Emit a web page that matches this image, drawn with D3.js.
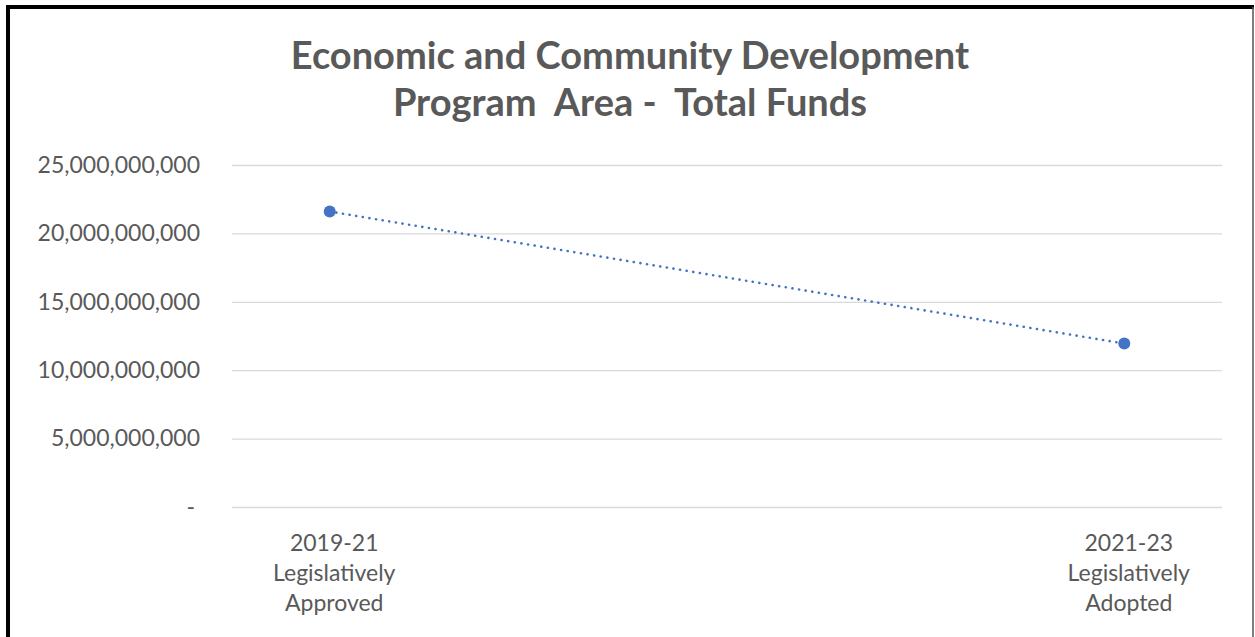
<!DOCTYPE html>
<html>
<head>
<meta charset="utf-8">
<script src="https://cdn.jsdelivr.net/npm/d3@7/dist/d3.min.js"></script>
<style>
  html, body { margin: 0; padding: 0; background: #fff; }
  svg { display: block; }
  text { font-family: Lato, "Open Sans", sans-serif; }
</style>
</head>
<body>
<svg id="chart" width="1255" height="637"></svg>
<script>
// Chart data
const titleLines = ["Economic and Community Development", "Program  Area -  Total Funds"];
const categories = ["2019-21 Legislatively Approved", "2021-23 Legislatively Adopted"];
const categoryLines = [["2019-21", "Legislatively", "Approved"], ["2021-23", "Legislatively", "Adopted"]];
const totalFunds = [21600000000, 11950000000];
const yTicks = [0, 5000000000, 10000000000, 15000000000, 20000000000, 25000000000];

const W = 1255, H = 637;
const plot = { left: 232, right: 1222, top: 165, bottom: 507 };

const svg = d3.select("#chart");

// White card with heavy left/top frame and a thin right edge
svg.append("rect").attr("width", W).attr("height", H).attr("fill", "#fff");
svg.append("line").attr("x1", 8).attr("x2", 8).attr("y1", 5).attr("y2", H)
  .attr("stroke", "#000").attr("stroke-width", 4);
svg.append("line").attr("x1", 6).attr("x2", 1254).attr("y1", 7).attr("y2", 7)
  .attr("stroke", "#000").attr("stroke-width", 4);
svg.append("line").attr("x1", 1253).attr("x2", 1253).attr("y1", 7).attr("y2", H)
  .attr("stroke", "#555").attr("stroke-width", 1.5);

// Title (spacing kept as written)
const title = svg.append("text")
  .attr("text-anchor", "middle")
  .attr("fill", "#595959")
  .attr("font-weight", "bold")
  .attr("font-size", 38)
  .style("white-space", "pre");
titleLines.forEach((t, i) => {
  title.append("tspan").attr("x", 630).attr("y", 69 + i * 47).text(t);
});

// Scales
const y = d3.scaleLinear().domain([0, 25000000000]).range([plot.bottom, plot.top]);
const x = d3.scalePoint().domain(categories).range([plot.left, plot.right]).padding(0.123);

// Y axis with gridlines
const fmt = d3.format(",");
const yAxis = svg.append("g")
  .attr("transform", `translate(${plot.left},0)`)
  .call(d3.axisLeft(y)
    .tickValues(yTicks)
    .tickSize(-(plot.right - plot.left))
    .tickPadding(32)
    .tickFormat(d => d === 0 ? "-" : fmt(d)));
yAxis.select(".domain").remove();
yAxis.selectAll(".tick line").attr("stroke", "#d9d9d9").attr("stroke-width", 1.3);
yAxis.selectAll(".tick text")
  .attr("fill", "#595959")
  .attr("font-size", 23)
  .attr("dx", d => d === 0 ? -5 : 0);

// X axis category labels
const xAxis = svg.append("g")
  .attr("transform", `translate(0,${plot.bottom})`)
  .call(d3.axisBottom(x).tickSize(0).tickFormat(""));
xAxis.select(".domain").remove();
xAxis.selectAll(".tick").each(function(d, i) {
  const t = d3.select(this).append("text")
    .attr("text-anchor", "middle")
    .attr("fill", "#595959")
    .attr("font-size", 23);
  categoryLines[i].forEach((ln, k) => {
    t.append("tspan").attr("x", 4).attr("y", 44 + k * 30).text(ln);
  });
});

// Dotted series line
const line = d3.line()
  .x((d, i) => x(categories[i]))
  .y(d => y(d));
svg.append("path")
  .datum(totalFunds)
  .attr("d", line)
  .attr("fill", "none")
  .attr("stroke", "#4472c4")
  .attr("stroke-width", 2.6)
  .attr("stroke-linecap", "round")
  .attr("stroke-dasharray", "0.1 6.6");

// Markers
svg.selectAll("circle.pt")
  .data(totalFunds)
  .join("circle")
  .attr("class", "pt")
  .attr("cx", (d, i) => x(categories[i]))
  .attr("cy", d => y(d))
  .attr("r", 6)
  .attr("fill", "#4472c4");
</script>
</body>
</html>
